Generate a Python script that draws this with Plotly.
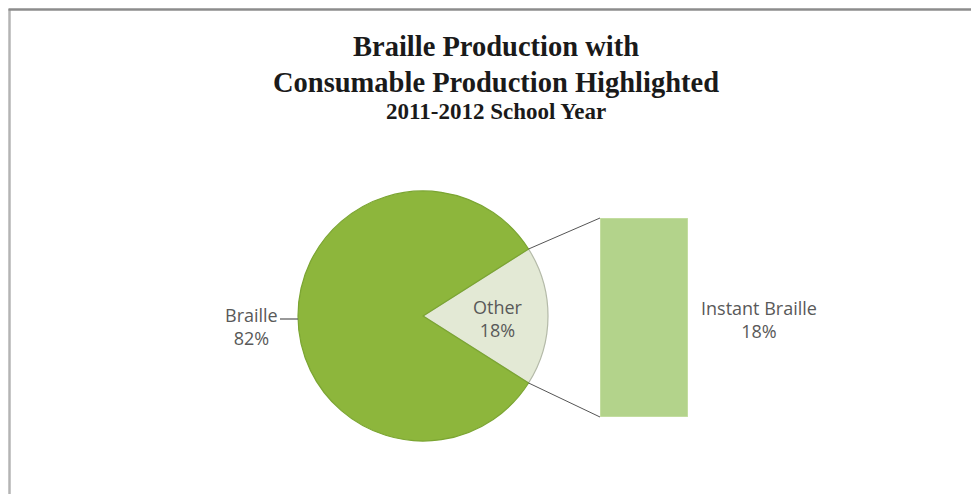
import math
import plotly.graph_objects as go

# ---- data ----
pie_labels = ["Other", "Braille"]
pie_values = [18, 82]
bar_labels = ["Instant Braille"]
bar_values = [18]
title_lines = ["Braille Production with", "Consumable Production Highlighted", "2011-2012 School Year"]

W, H = 971, 494

def px(x):
    return x / W

def py(y):
    return 1 - y / H

# pie geometry (pixels)
cx, cy, R = 423, 316, 125
total = sum(pie_values)
other_frac = pie_values[0] / total
half = math.pi * other_frac  # half-angle of Other slice (radians)
rotation = 90 - math.degrees(half)

# bar geometry (pixels)
bx0, bx1, by0, by1 = 600, 688, 218, 417

fig = go.Figure()

fig.add_trace(go.Pie(
    labels=pie_labels, values=pie_values, sort=False,
    direction="clockwise", rotation=rotation,
    marker=dict(colors=["#e3e9d5", "#8db63c"],
                line=dict(color=["#b4baa8", "#7ba532"], width=1.2)),
    textinfo="none", hoverinfo="label+percent", showlegend=False,
    domain=dict(x=[px(cx - R), px(cx + R)], y=[py(cy + R), py(cy - R)]),
))

fig.add_trace(go.Bar(
    x=bar_labels, y=bar_values, width=1,
    marker=dict(color="#b3d38b", line=dict(color="#c9e1a8", width=1.5)),
    xaxis="x2", yaxis="y2", showlegend=False, hoverinfo="x+y",
))

fig.update_layout(
    width=W, height=H,
    margin=dict(l=0, r=0, t=0, b=0),
    paper_bgcolor="white", plot_bgcolor="rgba(0,0,0,0)",
    xaxis2=dict(domain=[px(bx0), px(bx1)], range=[-0.5, 0.5], visible=False,
                anchor="y2", type="category"),
    yaxis2=dict(domain=[py(by1), py(by0)], range=[0, bar_values[0]], visible=False,
                anchor="x2"),
    xaxis=dict(visible=False), yaxis=dict(visible=False),
)

shapes = []
# frame
shapes.append(dict(type="line", xref="paper", yref="paper", x0=px(9.5), x1=px(9.5),
                   y0=py(9), y1=py(494), line=dict(color="#b4b4b4", width=2.5)))
shapes.append(dict(type="line", xref="paper", yref="paper", x0=px(8.5), x1=1,
                   y0=py(9.5), y1=py(9.5), line=dict(color="#8c8c8c", width=2.5)))
# connectors from Other slice edges to bar corners
ex = cx + R * math.cos(half)
ey_top = cy - R * math.sin(half)
ey_bot = cy + R * math.sin(half)
shapes.append(dict(type="line", xref="paper", yref="paper", x0=px(ex), y0=py(ey_top),
                   x1=px(bx0), y1=py(by0), line=dict(color="#555555", width=1)))
shapes.append(dict(type="line", xref="paper", yref="paper", x0=px(ex), y0=py(ey_bot),
                   x1=px(bx0), y1=py(by1), line=dict(color="#555555", width=1)))
# leader line for Braille label
shapes.append(dict(type="line", xref="paper", yref="paper", x0=px(280), y0=py(319),
                   x1=px(cx - R), y1=py(319), line=dict(color="#555555", width=1.2)))
fig.update_layout(shapes=shapes)

annotations = []
title_font = "Liberation Serif, Times New Roman, serif"
for text, y, size in zip(title_lines, [47, 83, 111], [28.5, 28.5, 23]):
    annotations.append(dict(text=f"<b>{text}</b>", x=px(496), y=py(y), xref="paper", yref="paper",
                            showarrow=False, xanchor="center", yanchor="middle",
                            font=dict(family=title_font, size=size, color="#1a1a1a")))

lab_font = dict(family="Open Sans, sans-serif", size=18, color="#595959")
pcts = [round(v / total * 100) for v in pie_values]
common = dict(xref="paper", yref="paper", showarrow=False, font=lab_font, align="center",
              xanchor="center", yanchor="middle")
annotations.append(dict(text=f"{pie_labels[1]}<br>{pcts[1]}%", x=px(251), y=py(326), **common))
annotations.append(dict(text=f"{pie_labels[0]}<br>{pcts[0]}%", x=px(498), y=py(318), **common))
annotations.append(dict(text=f"{bar_labels[0]}<br>{bar_values[0]}%", x=px(759), y=py(319), **common))
fig.update_layout(annotations=annotations)

fig.write_html("out.html")
